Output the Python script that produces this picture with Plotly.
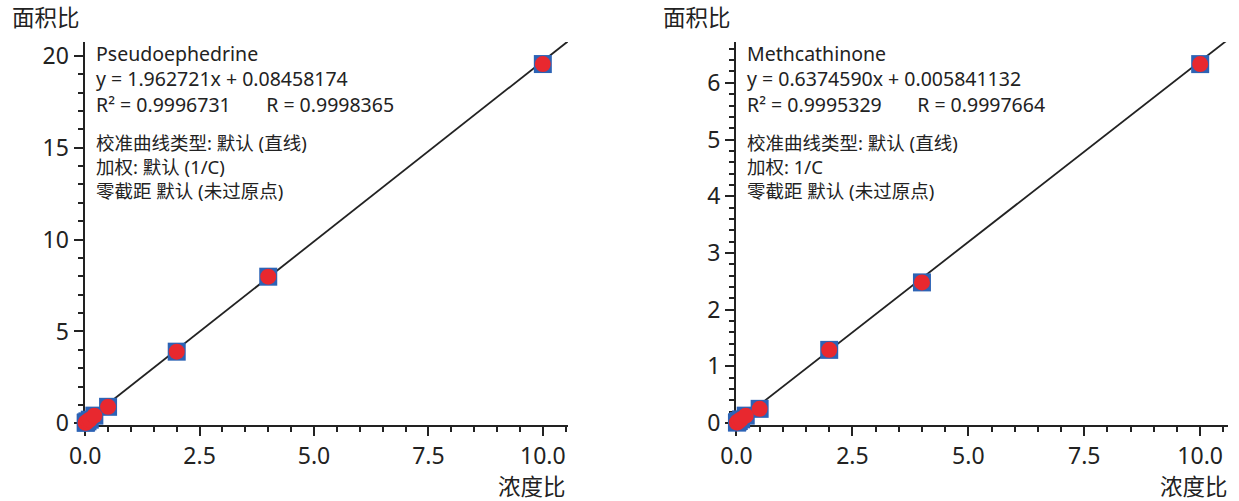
import plotly.graph_objects as go

# ---- data ----
conc = [0.01, 0.02, 0.05, 0.1, 0.2, 0.5, 2, 4, 10]
area_pse = [0.03, 0.05, 0.11, 0.2, 0.42, 0.9, 3.9, 7.98, 19.55]
area_meth = [0.008, 0.015, 0.035, 0.065, 0.13, 0.25, 1.29, 2.48, 6.33]

slopes = [1.962721, 0.6374590]
intercepts = [0.08458174, 0.005841132]
compounds = ["Pseudoephedrine", "Methcathinone"]
eqs = ["y = 1.962721x + 0.08458174", "y = 0.6374590x + 0.005841132"]
r2s = ["0.9996731", "0.9995329"]
rs = ["0.9998365", "0.9997664"]
weights = ["加权: 默认 (1/C)", "加权: 1/C"]
curve_type = "校准曲线类型: 默认 (直线)"
zero_int = "零截距 默认 (未过原点)"
y_title = "面积比"
x_title = "浓度比"

W, H = 1239, 501
FONT = "Noto Sans, Noto Sans CJK SC, sans-serif"
INK = "#222222"
BLUE = "#2d63b5"
RED = "#e8282f"

fig = go.Figure()
series = [area_pse, area_meth]
for i in range(2):
    xa = "x" if i == 0 else "x2"
    ya = "y" if i == 0 else "y2"
    lx = [0, 11]
    ly = [slopes[i] * v + intercepts[i] for v in lx]
    fig.add_trace(go.Scatter(x=lx, y=ly, mode="lines", xaxis=xa, yaxis=ya,
                             line=dict(color=INK, width=1.8), showlegend=False,
                             hoverinfo="skip"))
    fig.add_trace(go.Scatter(x=conc, y=series[i], mode="markers", xaxis=xa, yaxis=ya,
                             marker=dict(symbol="square", size=18, color=BLUE, line=dict(width=0)),
                             cliponaxis=False, showlegend=False))
    fig.add_trace(go.Scatter(x=conc, y=series[i], mode="markers", xaxis=xa, yaxis=ya,
                             marker=dict(symbol="circle", size=16, color=RED, line=dict(width=0)),
                             cliponaxis=False, showlegend=False))

def px_x(p):
    return p / W

def px_y(p):
    return 1 - p / H

axis_common = dict(showline=True, linecolor=INK, linewidth=2, ticks="outside",
                   ticklen=9, tickwidth=2, tickcolor=INK, showgrid=False, zeroline=False,
                   automargin=False,
                   tickfont=dict(family=FONT, size=23, color=INK), layer="below traces")

yd = [px_y(425), px_y(42)]
fig.update_layout(
    width=W, height=H, margin=dict(l=0, r=0, t=0, b=0, pad=0, autoexpand=False),
    paper_bgcolor="white", plot_bgcolor="white",
    font=dict(family=FONT, color=INK),
    xaxis=dict(domain=[px_x(84.5), px_x(568)], range=[-0.015, 10.55], dtick=2.5, tick0=0,
               tickformat=".1f", anchor="y",
               minor=dict(dtick=0.5, ticklen=5, tickwidth=2, tickcolor=INK, ticks="outside"),
               **axis_common),
    yaxis=dict(domain=yd, range=[-0.09, 20.75], dtick=5, tick0=0, anchor="x",
               minor=dict(dtick=1, ticklen=5, tickwidth=2, tickcolor=INK, ticks="outside"),
               **axis_common),
    xaxis2=dict(domain=[px_x(736), px_x(1228)], range=[-0.01, 10.6], dtick=2.5, tick0=0,
                tickformat=".1f", anchor="y2",
                minor=dict(dtick=0.5, ticklen=5, tickwidth=2, tickcolor=INK, ticks="outside"),
                **axis_common),
    yaxis2=dict(domain=yd, range=[-0.035, 6.72], dtick=1, tick0=0, anchor="x2",
                minor=dict(dtick=0.2, ticklen=5, tickwidth=2, tickcolor=INK, ticks="outside"),
                **axis_common),
)

anns = []
text_x = [94, 745]
ytitle_x = [10, 661]
xtitle_r = [568, 1230]
nb = "\u00a0"
for i in range(2):
    block1 = "<br>".join([compounds[i], eqs[i],
                          "R² = " + r2s[i] + nb * 7 + "R = " + rs[i]])
    block2 = "<br>".join([curve_type, weights[i], zero_int])
    anns.append(dict(text=block1, x=px_x(text_x[i]), y=px_y(79.5), xref="paper", yref="paper",
                     xanchor="left", yanchor="middle", align="left", showarrow=False,
                     font=dict(family=FONT, size=19.5, color=INK)))
    anns.append(dict(text=block2, x=px_x(text_x[i]), y=px_y(167), xref="paper", yref="paper",
                     xanchor="left", yanchor="middle", align="left", showarrow=False,
                     font=dict(family=FONT, size=18.5, color=INK)))
    anns.append(dict(text=y_title, x=px_x(ytitle_x[i]), y=px_y(18), xref="paper", yref="paper",
                     xanchor="left", yanchor="middle", showarrow=False,
                     font=dict(family=FONT, size=22.5, color=INK)))
    anns.append(dict(text=x_title, x=px_x(xtitle_r[i]), y=px_y(486), xref="paper", yref="paper",
                     xanchor="right", yanchor="middle", showarrow=False,
                     font=dict(family=FONT, size=22.5, color=INK)))
fig.update_layout(annotations=anns)

fig.write_html("out.html", config={"displayModeBar": False},
               post_script="document.body.style.margin='0';")
